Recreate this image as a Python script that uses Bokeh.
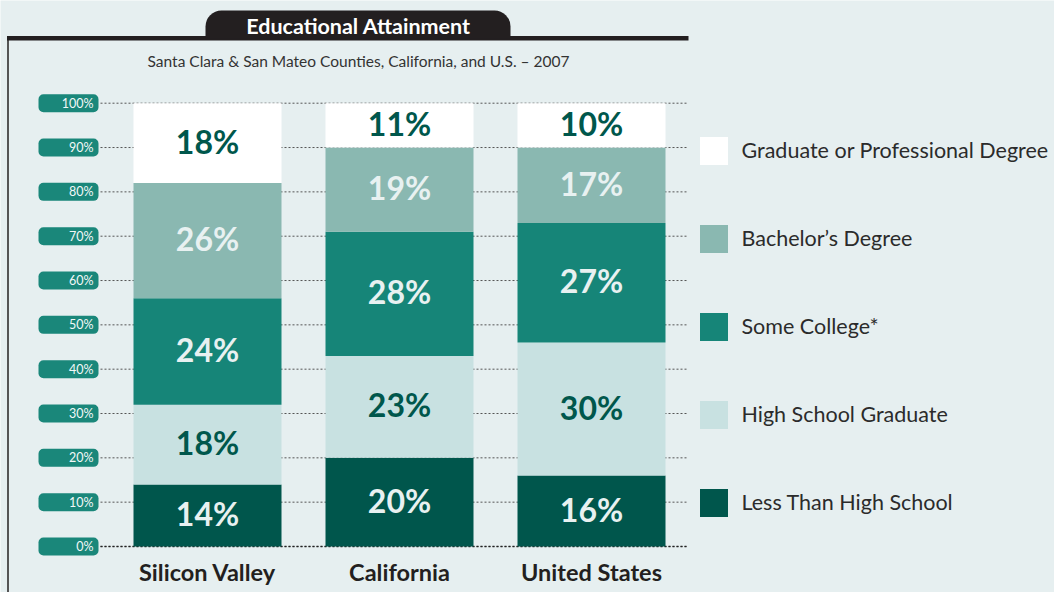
from bokeh.plotting import figure
from bokeh.models import Range1d, BoxAnnotation, Label, Legend, LegendItem, ColumnDataSource
from bokeh.core.properties import value
from bokeh.embed import file_html
from bokeh.resources import INLINE

# ---------------- data ----------------
regions = ["Silicon Valley", "California", "United States"]
series = ["Less Than High School", "High School Graduate", "Some College*",
          "Bachelor\u2019s Degree", "Graduate or Professional Degree"]
less_than_hs = [14, 20, 16]
hs_graduate = [18, 23, 30]
some_college = [24, 28, 27]
bachelors = [26, 19, 17]
graduate = [18, 11, 10]
tick_values = [0, 10, 20, 30, 40, 50, 60, 70, 80, 90, 100]
tick_labels = ["0%", "10%", "20%", "30%", "40%", "50%", "60%", "70%", "80%", "90%", "100%"]
title = "Educational Attainment"
subtitle = "Santa Clara & San Mateo Counties, California, and U.S. \u2013 2007"

values = [less_than_hs, hs_graduate, some_college, bachelors, graduate]
colors = ["#00564c", "#c8e1e1", "#168578", "#8ab8b1", "#ffffff"]
label_colors = ["#e8f1f1", "#00574c", "#e8f1f1", "#e8f1f1", "#00574c"]

FONT = "Lato"
BG = "#e6eff0"
W, H = 1054, 592

# pixel <-> data helpers (layout only)
X_CENTER0, PX_PER_X = 207.0, 192.0
Y_ZERO, PX_PER_PCT = 546.0, 4.433


def X(px):
    return (px - X_CENTER0) / PX_PER_X


def Y(py):
    return (Y_ZERO - py) / PX_PER_PCT


p = figure(width=W, height=H, output_backend="svg", toolbar_location=None,
           x_range=Range1d(X(0), X(W)),
           y_range=Range1d(Y(H), Y(0)),
           x_axis_location=None, y_axis_location=None, min_border=0)
p.xgrid.visible = False
p.ygrid.visible = False
p.outline_line_color = None
p.background_fill_color = BG
p.border_fill_color = BG

# frame: left rule, top rule, title tab
p.add_layout(BoxAnnotation(left=X(6.5), right=X(8.5), top=Y(38), bottom=Y(600),
                           fill_color="#555555", fill_alpha=1, line_color=None))
p.add_layout(BoxAnnotation(left=X(6.5), right=X(688), top=Y(35.5), bottom=Y(40),
                           fill_color="#231f20", fill_alpha=1, line_color=None))
p.add_layout(BoxAnnotation(left=X(205), right=X(510), top=Y(10), bottom=Y(38),
                           fill_color="#231f20", fill_alpha=1, line_color=None,
                           border_radius=dict(top_left=16, top_right=16, bottom_right=0, bottom_left=0)))
p.add_layout(Label(x=X(358), y=Y(25), text=title, text_align="center", text_baseline="middle",
                   text_font=FONT, text_font_style="bold", text_font_size="21.5px", text_color="#ffffff"))
p.add_layout(Label(x=X(358), y=Y(60), text=subtitle, text_align="center", text_baseline="middle",
                   text_font=FONT, text_font_size="15.5px", text_color="#333333"))

# gridlines
grid_src = ColumnDataSource(dict(x0=[X(100)] * len(tick_values), x1=[X(688)] * len(tick_values),
                                 y=tick_values))
p.segment(x0="x0", x1="x1", y0="y", y1="y", source=grid_src, line_color="#555555",
          line_width=1, line_dash="2 2")
p.segment(x0=[X(100)], x1=[X(688)], y0=[0], y1=[0], line_color="#222222", line_width=1.6, line_dash="2 2")

# tick pills
for t in tick_values:
    p.add_layout(BoxAnnotation(left=X(38), right=X(98), top=t + 9 / PX_PER_PCT, bottom=t - 9 / PX_PER_PCT,
                               fill_color="#1a877a", fill_alpha=1, line_color=None, border_radius=5,
                               level="underlay"))
p.text(x=[X(93)] * len(tick_values), y=tick_values, text=tick_labels, text_align="right",
       text_baseline="middle", text_font=value(FONT), text_font_size="12.5px", text_color="#f2f7f7")

# stacked bars
xs = list(range(len(regions)))
bar_w = 148 / PX_PER_X
cum = [0.0] * len(regions)
renderers = []
for vals, col, lcol in zip(values, colors, label_colors):
    bottoms = [min(c, 100) for c in cum]
    tops = [min(c + v, 100) for c, v in zip(cum, vals)]
    cum = [c + v for c, v in zip(cum, vals)]
    r = p.vbar(x=xs, width=bar_w, bottom=bottoms, top=tops, fill_color=col, line_color=None)
    renderers.append(r)
    mids = [(b + t) / 2 for b, t in zip(bottoms, tops)]
    p.text(x=xs, y=mids, text=[f"{v}%" for v in vals], text_align="center", text_baseline="middle",
           text_font=value(FONT), text_font_style="bold", text_font_size="32px", text_color=lcol,
           y_offset=-2)

# category labels
p.text(x=xs, y=[Y(571)] * len(xs), text=regions, text_align="center", text_baseline="middle",
       text_font=value(FONT), text_font_style="bold", text_font_size="23.5px", text_color="#231f20")

# legend
items = [LegendItem(label=s, renderers=[r]) for s, r in zip(series, renderers)][::-1]
legend = Legend(items=items, location=(695.5, H - 519.5), glyph_width=35, glyph_height=35,
                spacing=53, label_standoff=11, padding=0, margin=0, border_line_color=None,
                background_fill_alpha=0, label_text_font=FONT, label_text_font_size="21.5px",
                label_text_color="#2b2b2b", label_height=35)
p.add_layout(legend)

open("out.html", "w").write(file_html(p, INLINE))
